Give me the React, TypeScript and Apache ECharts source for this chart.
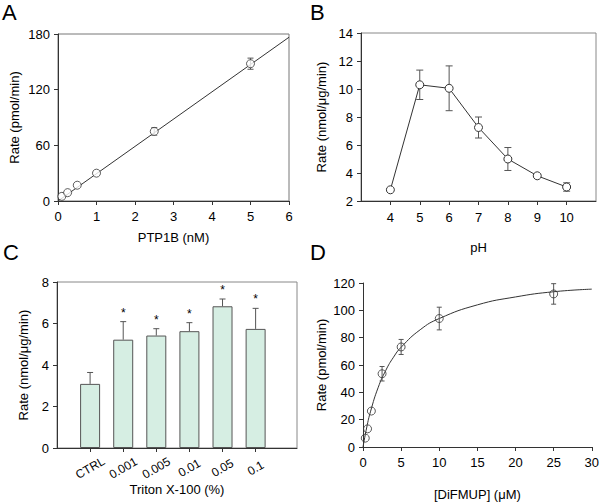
import React, { useEffect, useRef } from "react";
import * as echarts from "echarts";

const FONT = "Liberation Sans, Arial, sans-serif";

// Panel A
const A_x = [0.1, 0.25, 0.5, 1, 2.5, 5];
const A_y = [5, 9, 17, 30, 75, 148];
const A_err = [0, 0, 0, 0, 4, 6];
const A_fitX = [0, 6];
const A_fitY = [0, 176.5];
const A_xTicks = [0, 1, 2, 3, 4, 5, 6];
const A_yTicks = [0, 60, 120, 180];

// Panel B
const B_pH = [4, 5, 6, 7, 8, 9, 10];
const B_y = [2.8, 10.3, 10.05, 7.25, 5.0, 3.8, 3.0];
const B_err = [0, 1.05, 1.6, 0.75, 0.82, 0.08, 0.3];

// Panel C
const C_cats = ["CTRL", "0.001", "0.005", "0.01", "0.05", "0.1"];
const C_y = [3.09, 5.22, 5.42, 5.63, 6.83, 5.74];
const C_err = [0.55, 0.87, 0.33, 0.41, 0.35, 0.99];
const C_sig = [false, true, true, true, true, true];

// Panel D
const D_x = [0.3, 0.6, 1.1, 2.5, 5, 10, 25];
const D_y = [6.5, 13.3, 26.3, 53.6, 73.2, 94, 112];
const D_err = [0, 0, 0, 5.3, 5.5, 8.3, 7.5];
const D_fitX = [0, 0.5, 1, 2, 3, 4, 5, 7.5, 10, 15, 20, 25, 30];
const D_fitY = [0, 14.6, 26.2, 43.7, 56.2, 65.7, 73, 85.8, 94, 104, 109.8, 113.6, 115.5];

const LINE = "#333";

function axisBase(extra: any) {
  return {
    type: "value",
    nameLocation: "middle",
    nameTextStyle: { color: "#000", fontSize: 13, fontFamily: FONT },
    axisLine: { show: true, onZero: false, lineStyle: { color: LINE, width: 1 } },
    axisTick: { show: true, inside: false, length: 4, lineStyle: { color: LINE } },
    axisLabel: { color: "#000", fontSize: 13, fontFamily: FONT, margin: 8 },
    splitLine: { show: false },
    ...extra,
  };
}

function errRender(capHalf: number, color: string) {
  return (params: any, api: any) => {
    const x = api.value(0);
    const y = api.value(1);
    const e = api.value(2);
    const oneSided = api.value(3);
    const star = api.value(4);
    const children: any[] = [];
    if (e > 0) {
      const top = api.coord([x, y + e]);
      const bot = oneSided ? api.coord([x, y]) : api.coord([x, y - e]);
      const st = { stroke: color, lineWidth: 1, fill: null };
      children.push({ type: "line", shape: { x1: top[0], y1: top[1], x2: bot[0], y2: bot[1] }, style: st });
      children.push({ type: "line", shape: { x1: top[0] - capHalf, y1: top[1], x2: top[0] + capHalf, y2: top[1] }, style: st });
      if (!oneSided) {
        children.push({ type: "line", shape: { x1: bot[0] - capHalf, y1: bot[1], x2: bot[0] + capHalf, y2: bot[1] }, style: st });
      }
      if (star) {
        children.push({
          type: "text",
          x: top[0],
          y: top[1] - 3,
          style: { text: "*", fill: "#000", fontSize: 12, fontFamily: FONT, align: "center", verticalAlign: "bottom" },
        });
      }
    }
    return { type: "group", children };
  };
}

export default function App() {
  const ref = useRef<HTMLDivElement>(null);
  useEffect(() => {
    if (!ref.current) return;
    const chart = echarts.init(ref.current, null, { renderer: "svg" });
    const letter = (t: string, x: number, y: number) => ({
      type: "text",
      left: x,
      top: y,
      style: { text: t, fontSize: 22, fontFamily: FONT, fill: "#000" },
    });
    const option: any = {
      animation: false,
      backgroundColor: "#fff",
      graphic: [letter("A", 2, 1), letter("B", 310, 1), letter("C", 3, 241), letter("D", 310, 241)],
      grid: [
        { left: 58, top: 34, width: 231, height: 167, show: true, borderColor: "#777", borderWidth: 1 },
        { left: 361, top: 33, width: 235, height: 168, show: true, borderColor: "#888", borderWidth: 1 },
        { left: 57, top: 282, width: 240, height: 166, show: true, borderColor: "#888", borderWidth: 1 },
        { left: 363, top: 283, width: 231, height: 166, show: false },
      ],
      xAxis: [
        axisBase({ gridIndex: 0, min: 0, max: 6, interval: 1, name: "PTP1B (nM)", nameGap: 30,
          axisLabel: { color: "#000", fontSize: 13, fontFamily: FONT, margin: 9, customValues: A_xTicks },
          axisTick: { show: true, length: 4, lineStyle: { color: LINE }, customValues: A_xTicks } }),
        axisBase({ gridIndex: 1, min: 3, max: 11, interval: 1, name: "pH", nameGap: 40,
          axisLabel: { color: "#000", fontSize: 13, fontFamily: FONT, margin: 10, customValues: B_pH },
          axisTick: { show: true, length: 4, lineStyle: { color: LINE }, customValues: B_pH } }),
        axisBase({ gridIndex: 2, min: 0, max: 7.25, interval: 1, name: "Triton X-100 (%)", nameGap: 35,
          axisLabel: {
            color: "#000", fontSize: 12, fontFamily: FONT, margin: 20, rotate: 30,
            align: "center", verticalAlign: "middle",
            customValues: [1, 2, 3, 4, 5, 6],
            formatter: (v: number) => C_cats[Math.round(v) - 1] ?? "",
          },
          axisTick: { show: true, length: 4, lineStyle: { color: LINE }, customValues: [1, 2, 3, 4, 5, 6] } }),
        axisBase({ gridIndex: 3, min: 0, max: 30, interval: 5, name: "[DiFMUP] (\u03bcM)", nameGap: 41,
          axisLabel: { color: "#000", fontSize: 13, fontFamily: FONT, margin: 9 } }),
      ],
      yAxis: [
        axisBase({ gridIndex: 0, min: 0, max: 180, interval: 60, name: "Rate (pmol/min)", nameGap: 37,
          axisLabel: { color: "#000", fontSize: 13, fontFamily: FONT, margin: 8, customValues: A_yTicks } }),
        axisBase({ gridIndex: 1, min: 2, max: 14, interval: 2, name: "Rate (nmol/\u03bcg/min)", nameGap: 33 }),
        axisBase({ gridIndex: 2, min: 0, max: 8, interval: 2, name: "Rate (nmol/\u03bcg/min)", nameGap: 27 }),
        axisBase({ gridIndex: 3, min: 0, max: 120, interval: 20, name: "Rate (pmol/min)", nameGap: 35 }),
      ],
      series: [
        // A
        {
          type: "line", xAxisIndex: 0, yAxisIndex: 0, showSymbol: false, symbol: "none",
          data: A_fitX.map((x, i) => [x, A_fitY[i]]),
          lineStyle: { color: LINE, width: 1 }, z: 1,
        },
        {
          type: "custom", xAxisIndex: 0, yAxisIndex: 0, renderItem: errRender(3, "#555"),
          itemStyle: { color: "#000" },
          data: A_x.map((x, i) => [x, A_y[i], A_err[i], 0, 0]), z: 2,
        },
        {
          type: "scatter", xAxisIndex: 0, yAxisIndex: 0, symbol: "circle", symbolSize: 8,
          data: A_x.map((x, i) => [x, A_y[i]]),
          itemStyle: { color: "#fff", borderColor: LINE, borderWidth: 1 }, z: 3,
        },
        // B
        {
          type: "custom", xAxisIndex: 1, yAxisIndex: 1, renderItem: errRender(3.5, "#555"),
          itemStyle: { color: "#000" },
          data: B_pH.map((x, i) => [x, B_y[i], B_err[i], 0, 0]), z: 1,
        },
        {
          type: "line", xAxisIndex: 1, yAxisIndex: 1, symbol: "circle", symbolSize: 8, showSymbol: true,
          data: B_pH.map((x, i) => [x, B_y[i]]),
          lineStyle: { color: LINE, width: 1 },
          itemStyle: { color: "#fff", borderColor: LINE, borderWidth: 1 }, z: 3,
        },
        // C
        {
          type: "bar", xAxisIndex: 2, yAxisIndex: 2, barWidth: 20,
          data: C_y.map((y, i) => [i + 1, y]),
          itemStyle: { color: "#d6eee3", borderColor: "#555", borderWidth: 1 }, z: 2,
        },
        {
          type: "custom", xAxisIndex: 2, yAxisIndex: 2, renderItem: errRender(3, "#555"),
          itemStyle: { color: "#000" },
          data: C_y.map((y, i) => [i + 1, y, C_err[i], 1, C_sig[i] ? 1 : 0]), z: 3,
        },
        // D
        {
          type: "line", xAxisIndex: 3, yAxisIndex: 3, showSymbol: false, symbol: "none", smooth: true,
          data: D_fitX.map((x, i) => [x, D_fitY[i]]),
          lineStyle: { color: LINE, width: 1 }, z: 1,
        },
        {
          type: "custom", xAxisIndex: 3, yAxisIndex: 3, renderItem: errRender(2.5, "#555"),
          itemStyle: { color: "#000" },
          data: D_x.map((x, i) => [x, D_y[i], D_err[i], 0, 0]), z: 2,
        },
        {
          type: "scatter", xAxisIndex: 3, yAxisIndex: 3, symbol: "circle", symbolSize: 8,
          data: D_x.map((x, i) => [x, D_y[i]]),
          itemStyle: { color: "rgba(255,255,255,0)", borderColor: LINE, borderWidth: 1 }, z: 3,
        },
      ],
    };
    chart.setOption(option);
    return () => chart.dispose();
  }, []);
  return (
    <div
      ref={ref}
      style={{ position: "fixed", left: 0, top: 0, width: 602, height: 502, background: "#fff" }}
    />
  );
}
